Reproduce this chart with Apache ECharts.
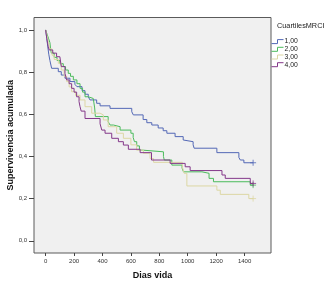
<!DOCTYPE html>
<html><head><meta charset="utf-8">
<script src="https://cdn.jsdelivr.net/npm/echarts@6/dist/echarts.min.js"></script>
<style>html,body{margin:0;padding:0;background:#fff}#c{width:335px;height:296px}</style>
</head><body><div id="c"></div>
<script>
const groupNames = ['1,00', '2,00', '3,00', '4,00'];
const legendTitle = 'CuartilesMRCI';
const xTitle = 'Dias vida';
const yTitle = 'Supervivencia acumulada';
const xTicks = [0, 200, 400, 600, 800, 1000, 1200, 1400];
const yTicks = [0, 0.2, 0.4, 0.6, 0.8, 1.0];

// Kaplan-Meier steps: [day, survival after event]
const curve1 = [[0,1.0],[8,0.96],[15,0.92],[22,0.885],[30,0.855],[42,0.818],[89,0.802],[110,0.786],[136,0.771],[171,0.755],[206,0.742],[220,0.731],[256,0.712],[277,0.695],[300,0.683],[312,0.668],[359,0.652],[383,0.640],[453,0.628],[606,0.612],[617,0.597],[686,0.575],[712,0.560],[747,0.549],[792,0.535],[827,0.522],[853,0.51],[911,0.494],[968,0.478],[982,0.47],[1038,0.455],[1045,0.439],[1205,0.418],[1360,0.395],[1370,0.383],[1395,0.37],[1460,0.37]];
const curve2 = [[0,1.0],[10,0.98],[20,0.96],[30,0.94],[35,0.91],[40,0.89],[60,0.87],[80,0.855],[100,0.84],[124,0.826],[140,0.81],[159,0.794],[175,0.78],[195,0.763],[220,0.745],[242,0.723],[260,0.705],[277,0.683],[300,0.675],[335,0.668],[345,0.63],[350,0.589],[440,0.565],[453,0.549],[477,0.541],[524,0.525],[600,0.51],[616,0.49],[625,0.47],[641,0.45],[660,0.43],[680,0.422],[829,0.40],[835,0.383],[888,0.359],[960,0.345],[970,0.327],[1100,0.32],[1150,0.296],[1181,0.28],[1440,0.264],[1460,0.264]];
const curve3 = [[0,1.0],[10,0.97],[20,0.94],[30,0.91],[45,0.88],[60,0.86],[89,0.842],[110,0.81],[130,0.78],[148,0.755],[165,0.73],[183,0.707],[210,0.69],[242,0.668],[277,0.636],[324,0.605],[383,0.597],[406,0.573],[440,0.541],[500,0.51],[547,0.486],[600,0.455],[640,0.43],[688,0.415],[735,0.39],[760,0.372],[962,0.35],[975,0.32],[994,0.26],[1205,0.24],[1229,0.22],[1430,0.20],[1460,0.20]];
const curve4 = [[0,1.0],[8,0.96],[14,0.935],[18,0.92],[25,0.905],[50,0.89],[77,0.873],[100,0.865],[110,0.826],[136,0.794],[148,0.763],[165,0.745],[183,0.723],[200,0.705],[218,0.683],[235,0.66],[242,0.636],[250,0.615],[277,0.58],[383,0.555],[395,0.525],[418,0.51],[465,0.486],[512,0.47],[547,0.454],[582,0.434],[665,0.418],[745,0.383],[876,0.367],[982,0.351],[1017,0.333],[1241,0.312],[1264,0.296],[1440,0.272],[1460,0.272]];
const curves = [curve1, curve2, curve3, curve4];
const censorDay = 1460;

const colors = ['#5368b6', '#4bbb5c', '#dcd7a4', '#84388a'];
const FONT = 'Liberation Sans, Arial, sans-serif';

const series = [];
curves.forEach((c, i) => {
  series.push({
    name: groupNames[i], type: 'line', step: 'end', data: c, symbol: 'none',
    lineStyle: { color: colors[i], width: 1 }, itemStyle: { color: colors[i] },
    z: 3 + i, animation: false
  });
});
curves.forEach((c, i) => {
  series.push({
    name: 'cens' + i, type: 'scatter', data: [c.find(p => p[0] === censorDay)],
    symbol: 'path://M3,0 L3,6 M0,3 L6,3', symbolSize: 6,
    itemStyle: { color: 'transparent', borderColor: colors[i], borderWidth: 1 },
    z: 10, animation: false, silent: true
  });
});

const chart = echarts.init(document.getElementById('c'), null, { renderer: 'canvas' });
chart.setOption({
  animation: false,
  backgroundColor: '#ffffff',
  textStyle: { fontFamily: FONT },
  title: {
    text: legendTitle, left: 277, top: 22, padding: 0,
    textStyle: { fontFamily: FONT, fontSize: 7.3, fontWeight: 'normal', color: '#222' }
  },
  legend: {
    orient: 'vertical', left: 266, top: 33,
    itemWidth: 12, itemHeight: 4, itemGap: 0.5,
    icon: 'path://M0,4 L6,4 L6,0 L12,0',
    data: groupNames.map((n, i) => ({
      name: n,
      itemStyle: { color: 'transparent', borderColor: colors[i], borderWidth: 1 }
    })),
    textStyle: { fontFamily: FONT, fontSize: 6.8, color: '#222', padding: [0, 0, 0, -4], lineHeight: 7.2 },
    selectedMode: false
  },
  grid: {
    left: 34, top: 17.5, right: 64, bottom: 43,
    containLabel: false, outerBoundsMode: 'none',
    show: true, backgroundColor: '#f0f0f0', borderColor: '#5a5a5a', borderWidth: 1
  },
  xAxis: {
    type: 'value', min: -82, max: 1586,
    name: xTitle, nameLocation: 'middle', nameGap: 18, nameMoveOverlap: false,
    nameTextStyle: { fontFamily: FONT, fontSize: 9, fontWeight: 'bold', color: '#111' },
    axisLine: { show: false, onZero: false },
    axisTick: { show: true, length: 3, customValues: xTicks, lineStyle: { color: '#444' } },
    axisLabel: { customValues: xTicks, fontSize: 6, color: '#333', margin: 5, fontFamily: FONT,
      formatter: v => String(v) },
    splitLine: { show: false }
  },
  yAxis: {
    type: 'value', min: -0.058, max: 1.059,
    name: yTitle, nameLocation: 'middle', nameGap: 19, nameMoveOverlap: false,
    nameTextStyle: { fontFamily: FONT, fontSize: 9, fontWeight: 'bold', color: '#111' },
    axisLine: { show: false, onZero: false },
    axisTick: { show: true, length: 5, customValues: yTicks, lineStyle: { color: '#444' } },
    axisLabel: {
      customValues: yTicks, fontSize: 6, color: '#333', margin: 7, fontFamily: FONT,
      formatter: v => v.toFixed(1).replace('.', ',')
    },
    splitLine: { show: false }
  },
  series: series
});
</script></body></html>
